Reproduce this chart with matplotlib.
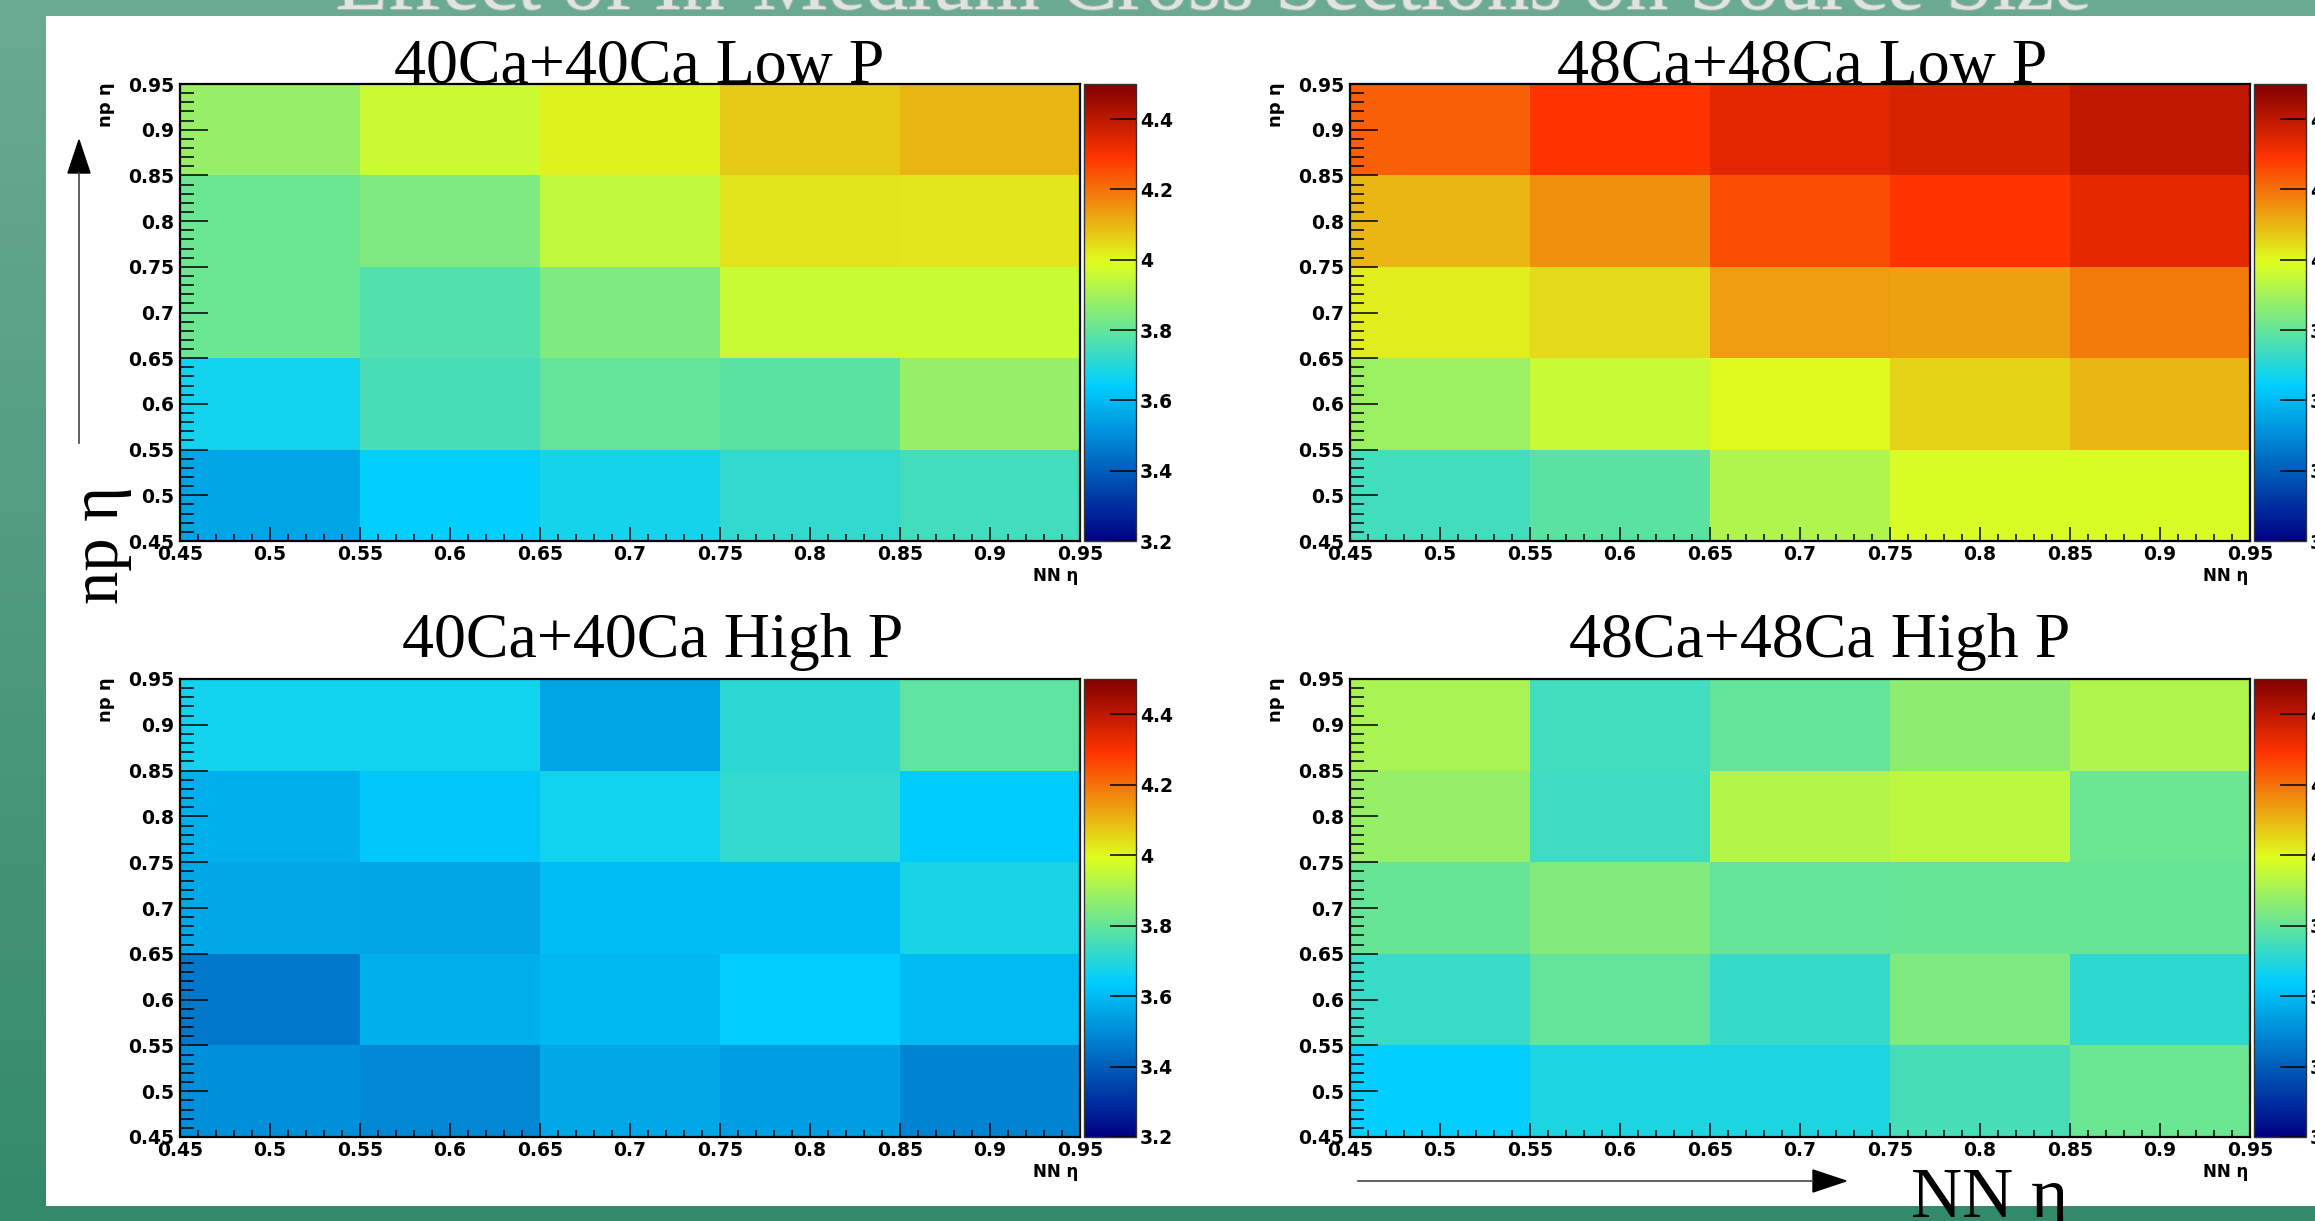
#!/usr/bin/env python3
"""
Four-panel source size maps (np eta vs NN eta) for 40Ca+40Ca and 48Ca+48Ca,
low and high momentum, drawn in a ROOT-like style on a green slide background.
"""

import numpy as np
import matplotlib
matplotlib.use('Agg')
import matplotlib.pyplot as plt
import matplotlib.patheffects as pe
from matplotlib.colors import LinearSegmentedColormap
from matplotlib.patches import Rectangle, Polygon
from matplotlib.ticker import MultipleLocator, FixedLocator
from matplotlib.font_manager import FontProperties

# ── Data ───────────────────────────────────────────────────────
NN_ETA = [0.5, 0.6, 0.7, 0.8, 0.9]      # bin centres, x
NP_ETA = [0.5, 0.6, 0.7, 0.8, 0.9]      # bin centres, y (rows below go bottom -> top)

CA40_LOW = [
    [3.555, 3.645, 3.673, 3.720, 3.746],
    [3.670, 3.755, 3.800, 3.785, 3.880],
    [3.810, 3.772, 3.840, 3.960, 3.960],
    [3.810, 3.840, 3.945, 4.032, 4.030],
    [3.880, 3.964, 4.010, 4.070, 4.100],
]
CA48_LOW = [
    [3.746, 3.785, 3.920, 3.984, 3.984],
    [3.888, 3.958, 4.000, 4.058, 4.100],
    [4.020, 4.047, 4.135, 4.130, 4.186],
    [4.100, 4.154, 4.254, 4.290, 4.335],
    [4.227, 4.290, 4.340, 4.357, 4.400],
]
CA40_HIGH = [
    [3.508, 3.490, 3.560, 3.538, 3.483],
    [3.456, 3.576, 3.598, 3.645, 3.600],
    [3.560, 3.555, 3.607, 3.607, 3.680],
    [3.576, 3.628, 3.670, 3.720, 3.637],
    [3.670, 3.670, 3.555, 3.712, 3.790],
]
CA48_HIGH = [
    [3.645, 3.689, 3.690, 3.755, 3.810],
    [3.730, 3.800, 3.727, 3.840, 3.715],
    [3.805, 3.849, 3.800, 3.805, 3.805],
    [3.880, 3.740, 3.925, 3.940, 3.810],
    [3.909, 3.746, 3.800, 3.863, 3.920],
]

TITLES = ["40Ca+40Ca Low P", "48Ca+48Ca Low P",
          "40Ca+40Ca High P", "48Ca+48Ca High P"]
SLIDE_TITLE = "Effect of In-Medium Cross Sections on Source Size"
Z_MIN, Z_MAX = 3.2, 4.5
CBAR_TICKS = [3.2, 3.4, 3.6, 3.8, 4.0, 4.2, 4.4]

# ── Style / layout (pixels of a 2315x1221 canvas) ──────────────
W, H = 2315, 1221
DPI = 100
SERIF = 'Liberation Serif'
TICK_FONT = dict(family='DejaVu Sans', weight='bold', size=13.5)

# ROOT "pretty palette" gradient
stops = [0.00, 0.34, 0.61, 0.84, 1.00]
reds = [0.00, 0.00, 0.87, 1.00, 0.51]
greens = [0.00, 0.81, 1.00, 0.20, 0.00]
blues = [0.51, 1.00, 0.12, 0.00, 0.00]
CMAP = LinearSegmentedColormap.from_list(
    'root_pretty', list(zip(stops, zip(reds, greens, blues))), N=512)

# axes boxes: left, top, width, height in px
PANELS = [
    (180, 84, 900, 457),
    (1350, 84, 900, 457),
    (180, 679, 900, 458),
    (1350, 679, 900, 458),
]
TITLE_POS = [(639, 83), (1802, 83), (653, 657), (1820, 657)]


def fig_rect(left, top, width, height):
    return [left / W, 1 - (top + height) / H, width / W, height / H]


def edges(centres):
    c = np.asarray(centres)
    half = (c[1] - c[0]) / 2
    return np.append(c - half, c[-1] + half)


fig = plt.figure(figsize=(W / DPI, H / DPI), dpi=DPI)

# ── Background slide ───────────────────────────────────────────
bg = fig.add_axes([0, 0, 1, 1], zorder=0)
bg.set_xlim(0, W)
bg.set_ylim(H, 0)
bg.set_axis_off()
top_c = np.array([0x6a, 0xab, 0x91]) / 255
bot_c = np.array([0x33, 0x8a, 0x69]) / 255
grad = np.linspace(0, 1, 256)[:, None, None]
grad_img = top_c * (1 - grad) + bot_c * grad
bg.imshow(np.repeat(grad_img, 2, axis=1), extent=(0, W, H, 0), aspect='auto')
bg.add_patch(Rectangle((46, 16), W - 46, 1190, facecolor='white', edgecolor='none'))

bg.text(1214, 9, SLIDE_TITLE, family=SERIF, fontsize=61, color='#dfe4e0',
        ha='center', va='baseline',
        path_effects=[pe.withStroke(linewidth=1.5, foreground='#9db6a9')])

# big axis hints with arrows
bg.plot([79, 79], [443, 173], color='#444444', lw=1.2)
bg.add_patch(Polygon([(68, 173), (90, 173), (79, 140)], closed=True,
                     facecolor='black', edgecolor='black'))
bg.text(102, 545, "np η", family=SERIF, fontsize=48, rotation=90,
        ha='center', va='center')

bg.plot([1358, 1813], [1181, 1181], color='#444444', lw=1.2)
bg.add_patch(Polygon([(1813, 1170), (1813, 1192), (1846, 1181)], closed=True,
                     facecolor='black', edgecolor='black'))
bg.text(1911, 1217, "NN η", family=SERIF, fontsize=51, ha='left', va='baseline')

# ── Heatmap panels ─────────────────────────────────────────────
xe = edges(NN_ETA)
ye = edges(NP_ETA)
major = np.round(np.arange(0.45, 0.951, 0.05), 2)

for data, title, (l, t, w, h), (tx, ty) in zip(
        [CA40_LOW, CA48_LOW, CA40_HIGH, CA48_HIGH], TITLES, PANELS, TITLE_POS):
    ax = fig.add_axes(fig_rect(l, t, w, h), zorder=2)
    mesh = ax.pcolormesh(xe, ye, np.array(data), cmap=CMAP,
                         vmin=Z_MIN, vmax=Z_MAX, shading='flat')
    ax.set_xlim(0.45, 0.95)
    ax.set_ylim(0.45, 0.95)
    for axis in (ax.xaxis, ax.yaxis):
        axis.set_major_locator(FixedLocator(major))
        axis.set_minor_locator(MultipleLocator(0.01))
    ax.set_xticklabels([f"{v:g}" for v in major], **TICK_FONT)
    ax.set_yticklabels([f"{v:g}" for v in major], **TICK_FONT)
    ax.tick_params(axis='both', which='both', direction='in', color='black',
                   top=False, right=False)
    ax.tick_params(axis='x', which='major', length=10, width=1.1, pad=3)
    ax.tick_params(axis='x', which='minor', length=5, width=1.1)
    ax.tick_params(axis='y', which='major', length=20, width=1.1, pad=4)
    ax.tick_params(axis='y', which='minor', length=10, width=1.1)
    for sp in ax.spines.values():
        sp.set_linewidth(1.6)
        sp.set_color('black')

    # colour scale
    cax = fig.add_axes(fig_rect(l + w + 4, t, 52, h), zorder=2)
    cb = fig.colorbar(mesh, cax=cax)
    cb.set_ticks(CBAR_TICKS)
    cb.set_ticklabels([f"{v:g}" for v in CBAR_TICKS])
    cb.ax.minorticks_off()
    cb.ax.tick_params(direction='in', length=19, width=1.1, pad=3, color='black')
    for lab in cb.ax.get_yticklabels():
        lab.set_fontproperties(FontProperties(**TICK_FONT))
    cb.outline.set_linewidth(1.0)
    cb.outline.set_edgecolor('#333333')

    # axis titles, ROOT placement
    fig.text((l - 74) / W, 1 - (t - 2) / H, "np η", rotation=90, ha='center',
             va='top', family='DejaVu Sans', weight='bold', fontsize=13)
    fig.text((l + w - 2) / W, 1 - (t + h + 26) / H, "NN η", ha='right',
             va='top', family='DejaVu Sans', weight='bold', fontsize=12)

    # panel title
    fig.text(tx / W, 1 - ty / H, title, family=SERIF, fontsize=46,
             ha='center', va='baseline', zorder=5)

fig.savefig('out.png', dpi=DPI)
plt.close(fig)
